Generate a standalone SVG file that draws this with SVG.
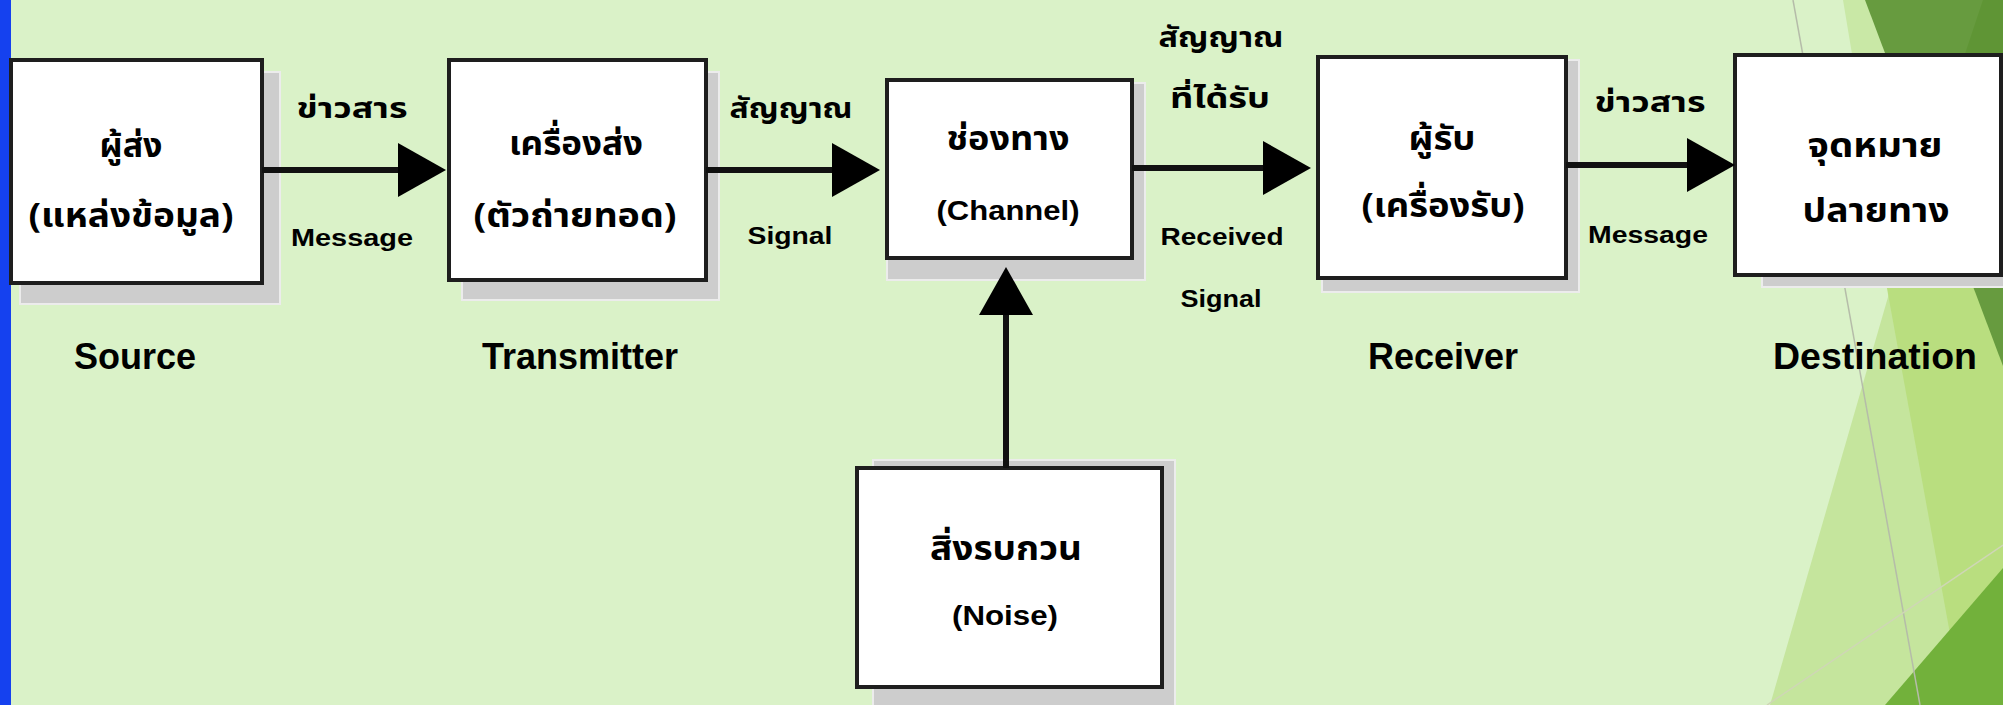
<svg xmlns="http://www.w3.org/2000/svg" width="2003" height="705" viewBox="0 0 2003 705">
<style>
.box{fill:#ffffff;stroke:#1e1e1e;stroke-width:4}
.shadow{fill:#cdcdcd;stroke:#ececec;stroke-width:2}
.conn{stroke:#111;stroke-width:6;fill:none}
.lbl{font-family:"Liberation Sans",Arial,sans-serif;font-weight:bold;font-size:36px;text-anchor:middle;fill:#000}
.en{font-family:"Liberation Sans",Arial,sans-serif;font-weight:bold;font-size:23px;text-anchor:middle;fill:#000}
.enb{font-family:"Liberation Sans",Arial,sans-serif;font-weight:bold;font-size:28px;text-anchor:middle;fill:#000}
.th{font-family:"Noto Sans Thai","Noto Sans","DejaVu Sans",sans-serif;font-weight:bold;font-size:34px;text-anchor:middle;fill:#000}
.ths{font-family:"Noto Sans Thai","Noto Sans","DejaVu Sans",sans-serif;font-weight:bold;font-size:28px;text-anchor:middle;fill:#000}
</style>
<defs>
<marker id="ah" markerUnits="userSpaceOnUse" markerWidth="50" markerHeight="56" refX="10" refY="27" orient="auto">
<path d="M0,0 L48,27 L0,54 Z" fill="#000"/>
</marker>
</defs>
<!-- background -->
<rect x="0" y="0" width="2003" height="705" fill="#daf2c8"/>
<g id="decor">
<polygon points="1843,0 1950,0 1950,60 1853,60" fill="#c9e8a6"/>
<polygon points="1945,100 2003,100 2003,705 1770,705" fill="#c5e59d"/>
<polygon points="1880,250 2003,250 2003,705 1963,705" fill="#b9de7f"/>
<polygon points="1865,0 2003,0 2003,366" fill="#679b3f"/>
<polygon points="1983,0 2003,0 2003,60 1963,60" fill="#5f9535"/>
<polygon points="2003,568 2003,705 1885,705" fill="#72b13b"/>
<line x1="1793" y1="0" x2="1920" y2="705" stroke="#b5bca9" stroke-width="1.5"/>
<line x1="1767" y1="705" x2="2003" y2="545" stroke="#cfd6b6" stroke-width="1.5"/>
</g>
<rect x="0" y="0" width="11" height="705" fill="#1541ef"/>

<g id="source">
<rect class="shadow" x="20" y="72" width="260" height="232"/>
<rect class="box" x="11" y="60" width="251" height="223"/>
<text class="th" x="131" y="157" textLength="63" lengthAdjust="spacingAndGlyphs">ผู้ส่ง</text>
<text class="th" x="131" y="227" textLength="205" lengthAdjust="spacingAndGlyphs">(แหล่งข้อมูล)</text>
<text class="lbl" x="135" y="369">Source</text>
</g>

<g id="transmitter">
<rect class="shadow" x="462" y="72" width="257" height="228"/>
<rect class="box" x="449" y="60" width="257" height="220"/>
<text class="th" x="576" y="155" textLength="134" lengthAdjust="spacingAndGlyphs">เครื่องส่ง</text>
<text class="th" x="575" y="227" textLength="203" lengthAdjust="spacingAndGlyphs">(ตัวถ่ายทอด)</text>
<text class="lbl" x="580" y="369">Transmitter</text>
</g>

<g id="channel">
<rect class="shadow" x="887" y="83" width="258" height="197"/>
<rect class="box" x="887" y="80" width="245" height="178"/>
<text class="th" x="1008" y="150" textLength="123" lengthAdjust="spacingAndGlyphs">ช่องทาง</text>
<text class="enb" x="1008" y="220" textLength="143" lengthAdjust="spacingAndGlyphs">(Channel)</text>
</g>

<g id="receiver">
<rect class="shadow" x="1322" y="60" width="257" height="232"/>
<rect class="box" x="1318" y="57" width="248" height="221"/>
<text class="th" x="1442" y="150" textLength="67" lengthAdjust="spacingAndGlyphs">ผู้รับ</text>
<text class="th" x="1443" y="217" textLength="163" lengthAdjust="spacingAndGlyphs">(เครื่องรับ)</text>
<text class="lbl" x="1443" y="369">Receiver</text>
</g>

<g id="destination">
<rect class="shadow" x="1762" y="60" width="250" height="227"/>
<rect class="box" x="1735" y="55" width="266" height="220"/>
<text class="th" x="1875" y="157" textLength="135" lengthAdjust="spacingAndGlyphs">จุดหมาย</text>
<text class="th" x="1876" y="222" textLength="147" lengthAdjust="spacingAndGlyphs">ปลายทาง</text>
<text class="lbl" x="1875" y="369" textLength="204" lengthAdjust="spacingAndGlyphs">Destination</text>
</g>

<g id="noise">
<rect class="shadow" x="873" y="460" width="302" height="250"/>
<rect class="box" x="857" y="468" width="305" height="219"/>
<text class="th" x="1006" y="560" textLength="152" lengthAdjust="spacingAndGlyphs">สิ่งรบกวน</text>
<text class="enb" x="1005" y="625" textLength="106" lengthAdjust="spacingAndGlyphs">(Noise)</text>
</g>

<g id="connectors">
<line class="conn" x1="262" y1="170" x2="408" y2="170" marker-end="url(#ah)"/>
<line class="conn" x1="706" y1="170" x2="842" y2="170" marker-end="url(#ah)"/>
<line class="conn" x1="1132" y1="168" x2="1273" y2="168" marker-end="url(#ah)"/>
<line class="conn" x1="1566" y1="165" x2="1697" y2="165" marker-end="url(#ah)"/>
<line class="conn" x1="1006" y1="468" x2="1006" y2="305" marker-end="url(#ah)"/>
<text class="ths" x="352" y="118" textLength="111" lengthAdjust="spacingAndGlyphs">ข่าวสาร</text>
<text class="en" x="352" y="246" textLength="122" lengthAdjust="spacingAndGlyphs">Message</text>
<text class="ths" x="791" y="118" textLength="123" lengthAdjust="spacingAndGlyphs">สัญญาณ</text>
<text class="en" x="790" y="244" textLength="85" lengthAdjust="spacingAndGlyphs">Signal</text>
<text class="ths" x="1221" y="47" textLength="125" lengthAdjust="spacingAndGlyphs">สัญญาณ</text>
<text class="ths" x="1220" y="108" textLength="100" lengthAdjust="spacingAndGlyphs">ที่ได้รับ</text>
<text class="en" x="1222" y="245" textLength="123" lengthAdjust="spacingAndGlyphs">Received</text>
<text class="en" x="1221" y="307" textLength="81" lengthAdjust="spacingAndGlyphs">Signal</text>
<text class="ths" x="1650" y="112" textLength="111" lengthAdjust="spacingAndGlyphs">ข่าวสาร</text>
<text class="en" x="1648" y="243" textLength="120" lengthAdjust="spacingAndGlyphs">Message</text>
</g>
</svg>
